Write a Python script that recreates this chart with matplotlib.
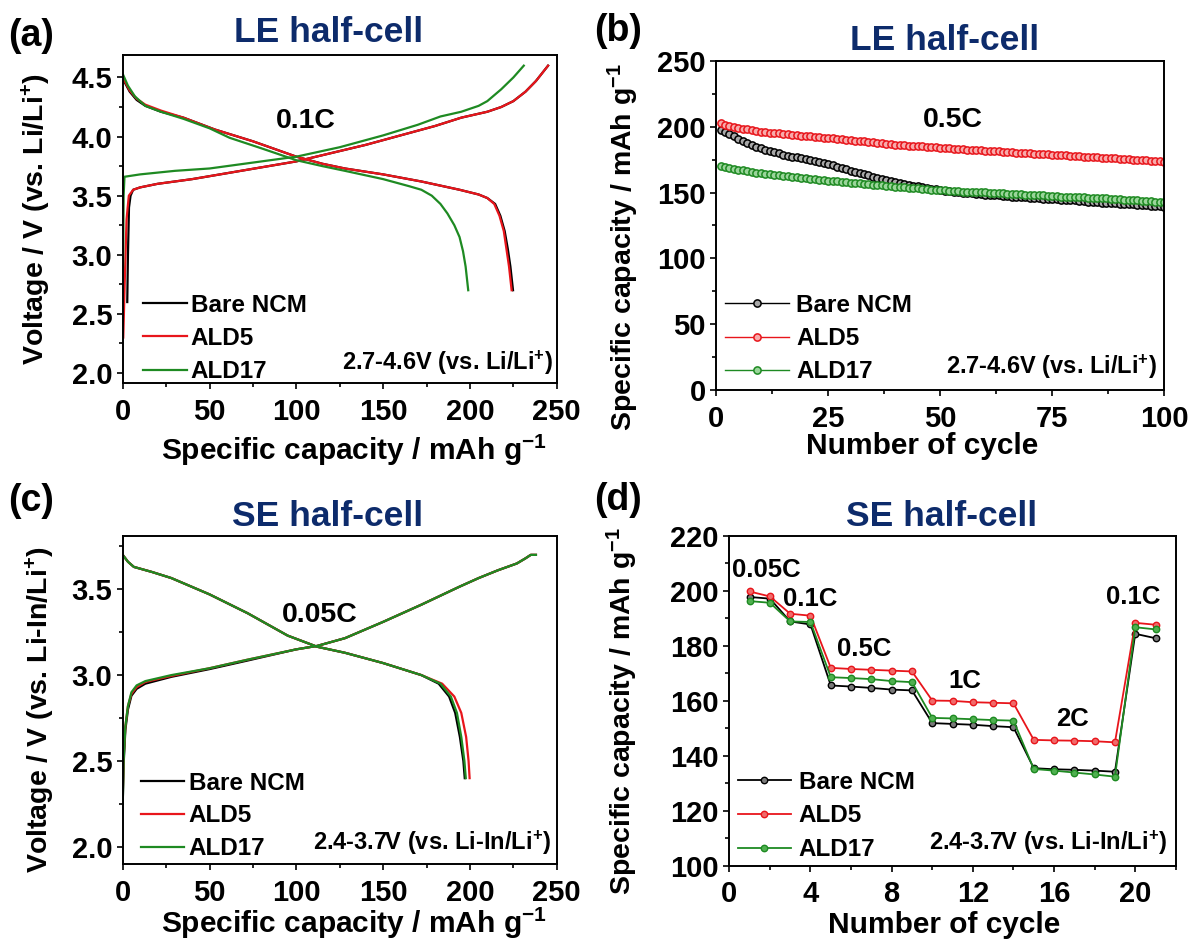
import matplotlib
matplotlib.use('Agg')
import matplotlib.pyplot as plt
from matplotlib.ticker import MultipleLocator, FormatStrFormatter

plt.rcParams.update({
    'font.family': ['Liberation Sans', 'DejaVu Sans'],
    'font.weight': 'bold',
    'axes.labelweight': 'bold',
    'mathtext.fontset': 'custom',
    'mathtext.rm': 'Liberation Sans:bold',
    'mathtext.bf': 'Liberation Sans:bold',
    'mathtext.it': 'Liberation Sans:bold',
    'mathtext.default': 'rm',
})

BLACK = '#000000'
RED = '#e8151b'
GREEN = '#1e8a22'
NAVY = '#0d2b6b'
LABELS = ['Bare NCM', 'ALD5', 'ALD17']

# (a) LE half-cell, 0.1C charge / discharge profiles: capacity (mAh/g), voltage (V)
a_bare_chg_q = [2.6, 3.0, 3.6, 4.5, 6, 10, 20, 40, 60, 80, 100, 120, 140, 160, 180, 195, 210, 218, 225, 232, 238, 245]
a_bare_chg_v = [2.6, 3.0, 3.4, 3.5, 3.55, 3.57, 3.6, 3.64, 3.69, 3.74, 3.79, 3.86, 3.93, 4.01, 4.09, 4.16, 4.21, 4.25, 4.3, 4.38, 4.47, 4.6]
a_bare_dis_q = [0, 4, 8, 13, 22, 35, 53, 75, 100, 115, 128, 150, 172, 194, 205, 210, 214.5, 217.5, 220, 221.8, 223.3, 224.8]
a_bare_dis_v = [4.49, 4.38, 4.31, 4.26, 4.21, 4.16, 4.06, 3.96, 3.83, 3.77, 3.73, 3.68, 3.62, 3.55, 3.51, 3.48, 3.43, 3.33, 3.2, 3.05, 2.9, 2.7]
a_ald5_chg_q = [0.3, 1.2, 2.2, 3.5, 6, 10, 20, 40, 60, 80, 100, 120, 140, 160, 180, 195, 210, 218, 225, 232, 238, 245]
a_ald5_chg_v = [2.3, 2.8, 3.3, 3.5, 3.55, 3.57, 3.6, 3.64, 3.69, 3.74, 3.79, 3.86, 3.93, 4.01, 4.09, 4.16, 4.21, 4.25, 4.3, 4.38, 4.47, 4.6]
a_ald5_dis_q = [0, 4, 8, 13, 22, 35, 53, 75, 100, 115, 128, 150, 172, 194, 205, 210, 214, 217, 219.5, 221, 222.5, 224]
a_ald5_dis_v = [4.5, 4.39, 4.32, 4.27, 4.22, 4.16, 4.06, 3.96, 3.83, 3.77, 3.73, 3.68, 3.62, 3.55, 3.51, 3.48, 3.43, 3.33, 3.2, 3.05, 2.9, 2.7]
a_ald17_chg_q = [0.2, 0.5, 1, 10, 30, 50, 75, 100, 125, 150, 170, 183, 195, 205, 210, 218, 225, 231]
a_ald17_chg_v = [2.9, 3.5, 3.66, 3.68, 3.71, 3.73, 3.78, 3.83, 3.91, 4.01, 4.1, 4.17, 4.21, 4.26, 4.3, 4.4, 4.5, 4.6]
a_ald17_dis_q = [0, 3, 7, 13, 22, 35, 50, 61.5, 80, 100, 115, 128, 150, 165, 172, 178, 183, 187, 191, 194, 196, 197.5, 199]
a_ald17_dis_v = [4.53, 4.43, 4.34, 4.26, 4.21, 4.15, 4.07, 3.99, 3.9, 3.8, 3.75, 3.71, 3.64, 3.58, 3.55, 3.5, 3.43, 3.35, 3.25, 3.15, 3.03, 2.9, 2.7]

# (b) LE half-cell cycling at 0.5C: discharge capacity (mAh/g) per cycle
b_cycles = list(range(1, 101))
b_bare = [197.5, 196.0, 194.3, 192.6, 191.0, 189.4, 187.8, 186.2, 184.7, 183.5,
          182.5, 181.6, 180.7, 179.8, 178.9, 178.1, 177.4, 176.7, 176.0, 175.3,
          174.6, 174.0, 173.3, 172.6, 171.6, 170.6, 169.6, 168.6, 167.6, 166.6,
          165.6, 164.8, 164.0, 163.1, 162.2, 161.4, 160.5, 159.6, 158.7, 157.9,
          157.1, 156.5, 155.9, 155.3, 154.7, 154.1, 153.5, 152.9, 152.4, 151.9,
          151.5, 151.1, 150.7, 150.3, 150.0, 149.7, 149.4, 149.1, 148.8, 148.5,
          148.3, 148.0, 147.8, 147.5, 147.3, 147.0, 146.8, 146.5, 146.3, 146.0,
          145.8, 145.6, 145.4, 145.2, 145.0, 144.8, 144.6, 144.4, 144.2, 144.0,
          143.7, 143.4, 143.1, 142.8, 142.6, 142.4, 142.2, 142.0, 141.8, 141.6,
          141.4, 141.2, 141.0, 140.8, 140.6, 140.3, 140.1, 139.8, 139.5, 139.2]
b_ald5 = [202.5, 201.6, 200.8, 200.0, 199.3, 198.6, 198.0, 197.3, 196.7, 196.3,
          195.9, 195.6, 195.2, 194.9, 194.5, 194.2, 193.9, 193.5, 193.2, 192.9,
          192.6, 192.3, 192.0, 191.7, 191.4, 191.1, 190.7, 190.4, 190.1, 189.8,
          189.4, 189.1, 188.8, 188.5, 188.1, 187.8, 187.5, 187.1, 186.8, 186.5,
          186.1, 185.9, 185.7, 185.4, 185.2, 185.0, 184.8, 184.5, 184.3, 184.1,
          183.9, 183.6, 183.4, 183.2, 183.0, 182.7, 182.5, 182.3, 182.0, 181.8,
          181.6, 181.4, 181.2, 181.0, 180.8, 180.6, 180.4, 180.2, 180.0, 179.8,
          179.6, 179.4, 179.2, 179.0, 178.8, 178.6, 178.4, 178.2, 178.0, 177.8,
          177.6, 177.4, 177.1, 176.9, 176.7, 176.5, 176.3, 176.1, 175.9, 175.7,
          175.5, 175.3, 175.1, 174.9, 174.7, 174.4, 174.2, 174.0, 173.8, 173.5]
b_ald17 = [170.2, 169.5, 168.8, 168.1, 167.5, 166.9, 166.3, 165.7, 165.2, 164.8,
           164.4, 164.0, 163.6, 163.2, 162.8, 162.4, 162.0, 161.6, 161.3, 160.9,
           160.5, 160.1, 159.8, 159.4, 159.1, 158.8, 158.5, 158.2, 157.9, 157.6,
           157.3, 157.0, 156.7, 156.4, 156.1, 155.8, 155.5, 155.2, 154.9, 154.6,
           154.3, 154.0, 153.7, 153.4, 153.1, 152.9, 152.6, 152.3, 152.1, 151.8,
           151.6, 151.4, 151.2, 151.0, 150.8, 150.6, 150.5, 150.3, 150.2, 150.1,
           150.0, 149.8, 149.6, 149.4, 149.2, 149.0, 148.9, 148.7, 148.5, 148.3,
           148.1, 147.9, 147.8, 147.6, 147.4, 147.2, 147.0, 146.9, 146.7, 146.5,
           146.4, 146.3, 146.1, 146.0, 145.8, 145.7, 145.5, 145.3, 145.1, 144.9,
           144.7, 144.5, 144.3, 144.1, 143.9, 143.6, 143.4, 143.1, 142.9, 142.6]

# (c) SE half-cell, 0.05C charge / discharge profiles
c_bare_chg_q = [0, 0.5, 1.5, 3, 5, 8, 13, 28, 50, 72, 100, 112, 128, 150, 172, 194, 205, 216, 227, 232, 235, 238]
c_bare_chg_v = [2.25, 2.48, 2.68, 2.8, 2.88, 2.92, 2.95, 2.99, 3.035, 3.085, 3.15, 3.17, 3.215, 3.31, 3.41, 3.515, 3.565, 3.61, 3.65, 3.68, 3.7, 3.7]
c_bare_dis_q = [0, 3, 6.4, 17, 28, 50, 72, 95, 112, 128, 150, 172, 182, 188, 191.5, 194.2, 196.2, 197]
c_bare_dis_v = [3.7, 3.66, 3.63, 3.6, 3.565, 3.47, 3.36, 3.23, 3.165, 3.13, 3.07, 3.0, 2.95, 2.875, 2.78, 2.64, 2.5, 2.4]
c_ald5_chg_q = [0, 0.5, 1.5, 3, 5, 8, 13, 28, 50, 72, 100, 112, 128, 150, 172, 194, 205, 216, 227, 232, 235, 238]
c_ald5_chg_v = [2.3, 2.52, 2.7, 2.82, 2.89, 2.93, 2.96, 2.995, 3.04, 3.09, 3.15, 3.17, 3.215, 3.31, 3.41, 3.515, 3.565, 3.61, 3.65, 3.68, 3.7, 3.7]
c_ald5_dis_q = [0, 3, 6.4, 17, 28, 50, 72, 95, 112, 128, 150, 172, 184, 191, 195, 197.8, 199.2, 199.8]
c_ald5_dis_v = [3.7, 3.66, 3.63, 3.6, 3.565, 3.47, 3.36, 3.23, 3.165, 3.13, 3.07, 3.0, 2.95, 2.875, 2.78, 2.64, 2.5, 2.4]
c_ald17_chg_q = [0, 0.5, 1.5, 3, 5, 8, 13, 28, 50, 72, 100, 112, 128, 150, 172, 194, 205, 216, 227, 232, 235, 238]
c_ald17_chg_v = [2.25, 2.5, 2.7, 2.82, 2.9, 2.94, 2.965, 3.0, 3.04, 3.09, 3.15, 3.17, 3.215, 3.31, 3.41, 3.515, 3.565, 3.61, 3.65, 3.68, 3.7, 3.7]
c_ald17_dis_q = [0, 3, 6.4, 17, 28, 50, 72, 95, 112, 128, 150, 172, 183, 189, 192.5, 195, 196.8, 197.6]
c_ald17_dis_v = [3.7, 3.66, 3.63, 3.6, 3.565, 3.47, 3.36, 3.23, 3.165, 3.13, 3.07, 3.0, 2.95, 2.875, 2.78, 2.64, 2.5, 2.4]

# (d) SE half-cell rate capability
d_cycles = list(range(1, 22))
d_bare = [197.8, 197.2, 188.9, 187.8, 165.6, 165.2, 164.7, 164.1, 163.8, 151.9, 151.6,
          151.3, 150.8, 150.4, 135.5, 135.1, 134.9, 134.6, 134.2, 184.4, 182.8]
d_ald5 = [199.8, 198.0, 191.7, 191.0, 172.0, 171.6, 171.3, 171.0, 170.7, 160.1, 160.0,
          159.5, 159.3, 159.1, 145.8, 145.6, 145.5, 145.3, 144.9, 188.4, 187.7]
d_ald17 = [196.3, 195.7, 188.9, 188.7, 168.6, 168.3, 167.9, 167.2, 166.8, 153.8, 153.6,
           153.3, 153.0, 152.8, 135.2, 134.6, 133.9, 133.2, 132.4, 186.8, 186.0]
d_rates = ['0.05C', '0.1C', '0.5C', '1C', '2C', '0.1C']
d_rate_xy = [(1.84, 207.5), (3.98, 197.2), (6.63, 179.0), (11.6, 167.4), (16.9, 153.4), (19.9, 197.8)]

TICK_FS = 21
XLABEL_FS = 21.5
YLABEL_FS = 20.5
LEG_FS = 17.5
NOTE_FS = 17


def style_axes(ax):
    for sp in ax.spines.values():
        sp.set_linewidth(1.4)
    ax.tick_params(which='both', direction='out', top=False, right=False,
                   labelsize=TICK_FS, width=1.2)
    ax.tick_params(axis='x', which='both', pad=6)
    ax.tick_params(axis='y', which='both', pad=3)
    ax.tick_params(which='major', length=4.5)
    ax.tick_params(which='minor', length=3)
    for lab in ax.get_xticklabels() + ax.get_yticklabels():
        lab.set_fontweight('bold')


def add_legend(ax, x, y, hlen, hpad, spacing):
    ax.legend(loc='lower left', bbox_to_anchor=(x, y), frameon=False,
              fontsize=LEG_FS, handlelength=hlen, handletextpad=hpad,
              labelspacing=spacing, borderpad=0, borderaxespad=0, numpoints=1)


fig = plt.figure(figsize=(11.94, 9.42), dpi=100)

# ---- (a)
ax = fig.add_axes([0.1028, 0.5934, 0.3635, 0.3482])
ax.plot(a_bare_chg_q, a_bare_chg_v, color=BLACK, lw=1.6, label=LABELS[0])
ax.plot(a_bare_dis_q, a_bare_dis_v, color=BLACK, lw=1.6)
ax.plot(a_ald5_chg_q, a_ald5_chg_v, color=RED, lw=1.6, label=LABELS[1])
ax.plot(a_ald5_dis_q, a_ald5_dis_v, color=RED, lw=1.6)
ax.plot(a_ald17_chg_q, a_ald17_chg_v, color=GREEN, lw=1.6, label=LABELS[2])
ax.plot(a_ald17_dis_q, a_ald17_dis_v, color=GREEN, lw=1.6)
ax.set_xlim(0, 250)
ax.set_ylim(1.915, 4.69)
ax.xaxis.set_major_locator(MultipleLocator(50))
ax.xaxis.set_minor_locator(MultipleLocator(25))
ax.yaxis.set_major_locator(MultipleLocator(0.5))
ax.yaxis.set_minor_locator(MultipleLocator(0.25))
ax.yaxis.set_major_formatter(FormatStrFormatter('%.1f'))
style_axes(ax)
ax.set_xlabel('Specific capacity / mAh g$^{-1}$', fontsize=XLABEL_FS)
ax.set_ylabel('Voltage / V (vs. Li/Li$^{+}$)', fontsize=YLABEL_FS)
ax.xaxis.set_label_coords(0.533, -0.152)
ax.yaxis.set_label_coords(-0.161, 0.5)
ax.text(105.6, 4.13, '0.1C', fontsize=20.5, ha='center', va='center')
ax.text(0.991, 0.062, '2.7-4.6V (vs. Li/Li$^{+}$)', transform=ax.transAxes,
        fontsize=NOTE_FS, ha='right', va='center')
add_legend(ax, 0.046, 0.0, 1.82, 0.15, 0.42)

# ---- (b)
ax = fig.add_axes([0.5997, 0.5860, 0.3755, 0.3493])
for vals, col, face, lab in [(b_bare, BLACK, '#a8a8a8', LABELS[0]),
                             (b_ald5, RED, '#f8aaaa', LABELS[1]),
                             (b_ald17, GREEN, '#9ad59a', LABELS[2])]:
    ax.plot(b_cycles, vals, color=col, lw=1.0, marker='o', ms=5.2,
            mfc=face, mec=col, mew=1.1, label=lab)
ax.set_xlim(0, 100)
ax.set_ylim(0, 250)
ax.xaxis.set_major_locator(MultipleLocator(25))
ax.xaxis.set_minor_locator(MultipleLocator(12.5))
ax.yaxis.set_major_locator(MultipleLocator(50))
ax.yaxis.set_minor_locator(MultipleLocator(25))
style_axes(ax)
ax.set_xlabel('Number of cycle', fontsize=XLABEL_FS)
ax.set_ylabel('Specific capacity / mAh g$^{-1}$', fontsize=YLABEL_FS)
ax.xaxis.set_label_coords(0.459, -0.128)
ax.yaxis.set_label_coords(-0.167, 0.435)
ax.text(52.9, 205.2, '0.5C', fontsize=20.5, ha='center', va='center')
ax.text(0.983, 0.071, '2.7-4.6V (vs. Li/Li$^{+}$)', transform=ax.transAxes,
        fontsize=NOTE_FS, ha='right', va='center')
add_legend(ax, 0.02, 0.02, 2.63, 0.3, 0.42)

# ---- (c)
ax = fig.add_axes([0.1028, 0.0828, 0.3635, 0.3482])
ax.plot(c_bare_chg_q, c_bare_chg_v, color=BLACK, lw=1.6, label=LABELS[0])
ax.plot(c_bare_dis_q, c_bare_dis_v, color=BLACK, lw=1.6)
ax.plot(c_ald5_chg_q, c_ald5_chg_v, color=RED, lw=1.6, label=LABELS[1])
ax.plot(c_ald5_dis_q, c_ald5_dis_v, color=RED, lw=1.6)
ax.plot(c_ald17_chg_q, c_ald17_chg_v, color=GREEN, lw=1.6, label=LABELS[2])
ax.plot(c_ald17_dis_q, c_ald17_dis_v, color=GREEN, lw=1.6)
ax.set_xlim(0, 250)
ax.set_ylim(1.9, 3.81)
ax.xaxis.set_major_locator(MultipleLocator(50))
ax.xaxis.set_minor_locator(MultipleLocator(25))
ax.yaxis.set_major_locator(MultipleLocator(0.5))
ax.yaxis.set_minor_locator(MultipleLocator(0.25))
ax.yaxis.set_major_formatter(FormatStrFormatter('%.1f'))
style_axes(ax)
ax.set_xlabel('Specific capacity / mAh g$^{-1}$', fontsize=XLABEL_FS)
ax.set_ylabel('Voltage / V (vs. Li-In/Li$^{+}$)', fontsize=YLABEL_FS)
ax.xaxis.set_label_coords(0.533, -0.128)
ax.yaxis.set_label_coords(-0.152, 0.47)
ax.text(113.5, 3.35, '0.05C', fontsize=20.5, ha='center', va='center')
ax.text(0.987, 0.065, '2.4-3.7V (vs. Li-In/Li$^{+}$)', transform=ax.transAxes,
        fontsize=NOTE_FS, ha='right', va='center')
add_legend(ax, 0.0415, 0.012, 1.78, 0.19, 0.4)

# ---- (d)
ax = fig.add_axes([0.6108, 0.0810, 0.3740, 0.3500])
for vals, col, face, lab in [(d_bare, BLACK, '#7a7a7a', LABELS[0]),
                             (d_ald5, RED, '#f06a6a', LABELS[1]),
                             (d_ald17, GREEN, '#4fb04f', LABELS[2])]:
    ax.plot(d_cycles, vals, color=col, lw=1.3, marker='o', ms=4.6,
            mfc=face, mec=col, mew=1.0, label=lab)
ax.set_xlim(0, 22)
ax.set_ylim(100, 220)
ax.xaxis.set_major_locator(MultipleLocator(4))
ax.xaxis.set_minor_locator(MultipleLocator(2))
ax.yaxis.set_major_locator(MultipleLocator(20))
ax.yaxis.set_minor_locator(MultipleLocator(10))
style_axes(ax)
ax.set_xlabel('Number of cycle', fontsize=XLABEL_FS)
ax.set_ylabel('Specific capacity / mAh g$^{-1}$', fontsize=YLABEL_FS)
ax.xaxis.set_label_coords(0.482, -0.138)
ax.yaxis.set_label_coords(-0.2, 0.47)
for rate, (x, y) in zip(d_rates, d_rate_xy):
    ax.text(x, y, rate, fontsize=18.5, ha='center', va='center')
ax.text(0.980, 0.07, '2.4-3.7V (vs. Li-In/Li$^{+}$)', transform=ax.transAxes,
        fontsize=NOTE_FS, ha='right', va='center')
add_legend(ax, 0.0195, 0.014, 2.16, 0.34, 0.44)

# panel letters and titles
for lab, x, y in [('(a)', 8, 36.5), ('(b)', 594, 31), ('(c)', 8, 501), ('(d)', 594, 500)]:
    fig.text(x / 1194, 1 - y / 942, lab, fontsize=27, ha='left', va='center')
for title, x, y in [('LE half-cell', 329, 33), ('LE half-cell', 945, 40),
                    ('SE half-cell', 328, 517), ('SE half-cell', 942, 517)]:
    fig.text(x / 1194, 1 - y / 942, title, fontsize=25.5, color=NAVY,
             ha='center', va='center')

fig.savefig('out.png', dpi=100)
